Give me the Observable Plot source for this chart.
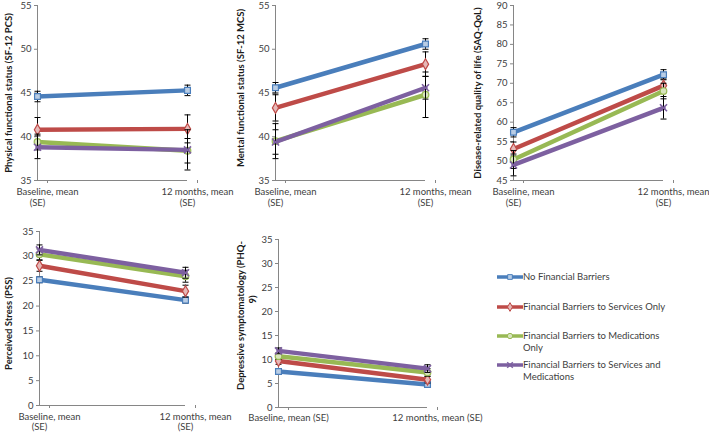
<!DOCTYPE html>
<html>
<head>
<meta charset="utf-8">
<script src="https://cdn.jsdelivr.net/npm/d3@7"></script>
<script src="https://cdn.jsdelivr.net/npm/@observablehq/plot@0.6"></script>
<style>
  body { margin: 0; background: white; }
  #chart { position: relative; width: 709px; height: 435px; overflow: hidden; font-family: Lato, sans-serif; }
  #chart > svg { position: absolute; }
  .legend { position: absolute; left: 497px; font-size: 9.5px; color: #404040; }
  .legend .item { position: absolute; left: 0; display: flex; align-items: flex-start; width: 200px; }
  .legend .item svg { flex: none; margin-top: 0px; }
  .legend .item span { width: 151px; line-height: 12px; }
</style>
</head>
<body>
<div id="chart"></div>
<script>
// ---- data ----
const timepoints = ["Baseline", "12 months"];
const tickLine1 = ["Baseline, mean", "12 months, mean"];
const tickLine2 = ["(SE)", "(SE)"];
const tickSingle = ["Baseline, mean (SE)", "12 months, mean (SE)"];
const groups = [
  "No Financial Barriers",
  "Financial Barriers to Services Only",
  "Financial Barriers to Medications Only",
  "Financial Barriers to Services and Medications"
];
const legendLabels = [
  "No Financial Barriers",
  "Financial Barriers to Services Only",
  "Financial Barriers to Medications Only",
  "Financial Barriers to Services and Medications"
];

// per group: [baseline, 12 months]
const pcsMean = [[44.6, 45.3], [40.8, 40.9], [39.4, 38.4], [38.8, 38.5]];
const pcsSE   = [[0.6, 0.6], [1.4, 1.6], [0.9, 1.4], [1.3, 2.3]];

const mcsMean = [[45.6, 50.6], [43.3, 48.3], [39.5, 44.8], [39.4, 45.6]];
const mcsSE   = [[0.6, 0.6], [1.5, 1.4], [2.0, 2.6], [1.4, 1.3]];

const saqMean = [[57.4, 72.2], [53.1, 69.4], [50.4, 68.0], [49.0, 63.7]];
const saqSE   = [[1.2, 1.3], [1.8, 1.7], [2.3, 2.0], [2.8, 2.9]];

const pssMean = [[25.3, 21.2], [28.1, 23.0], [30.4, 26.0], [31.3, 26.7]];
const pssSE   = [[0.6, 0.6], [1.1, 1.2], [1.1, 1.2], [1.0, 1.1]];

const phqMean = [[7.5, 4.8], [9.7, 5.8], [10.7, 7.3], [11.8, 8.1]];
const phqSE   = [[0.4, 0.4], [0.7, 0.7], [0.7, 0.8], [0.6, 0.8]];

const pcsTicks = [35, 40, 45, 50, 55];
const mcsTicks = [35, 40, 45, 50, 55];
const saqTicks = [45, 50, 55, 60, 65, 70, 75, 80, 85, 90];
const pssTicks = [0, 5, 10, 15, 20, 25, 30, 35];
const phqTicks = [0, 5, 10, 15, 20, 25, 30, 35];

// ---- styles ----
const colors = ["#4A7EBB", "#BE4B48", "#98B954", "#7D60A0"];
const fills  = ["#B9CDE5", "#E6B9B8", "#D7E4BD", "#CCC1DA"];
const symbols = ["square", "diamond", "circle", "times"];
const axisColor = "#868686";
const textColor = "#404040";

const capSymbol = {
  draw(ctx, size) {
    const r = Math.sqrt(size / Math.PI);
    ctx.moveTo(-r, 0);
    ctx.lineTo(r, 0);
  }
};

function rowsFor(means, ses) {
  const rows = [];
  groups.forEach((g, gi) => timepoints.forEach((t, ti) => {
    rows.push({group: g, gi, time: t, mean: means[gi][ti], se: ses[gi][ti]});
  }));
  return rows;
}

function panel(o) {
  const rows = rowsFor(o.means, o.ses);
  const marks = [
    Plot.ruleY([o.domain[0]], {stroke: axisColor}),
    Plot.ruleX([timepoints[0]], {stroke: axisColor}),
    Plot.axisY({ticks: o.ticks, tickSize: 3, tickPadding: 3, stroke: axisColor, label: null, fill: textColor}),
  ];
  if (o.twoLine) {
    marks.push(
      Plot.axisX({tickSize: 3, stroke: axisColor, tickPadding: 5, dx: 10, label: null, fill: textColor,
        tickFormat: d => tickLine1[timepoints.indexOf(d)]}),
      Plot.axisX({tickSize: 0, tickPadding: o.line2Pad || 19, label: null, fill: textColor,
        tickFormat: d => tickLine2[timepoints.indexOf(d)]})
    );
  } else {
    marks.push(
      Plot.axisX({tickSize: 3, stroke: axisColor, tickPadding: 4, dx: 10, label: null, fill: textColor,
        tickFormat: d => tickSingle[timepoints.indexOf(d)]})
    );
  }
  groups.forEach((g, gi) => {
    const gr = rows.filter(r => r.gi === gi);
    marks.push(
      Plot.line(gr, {x: "time", y: "mean", stroke: colors[gi], strokeWidth: 4.5}),
      Plot.ruleX(gr, {x: "time", y1: d => d.mean - d.se, y2: d => d.mean + d.se, stroke: "#000", strokeWidth: 1}),
      Plot.dot(gr, {x: "time", y: d => d.mean - d.se, symbol: capSymbol, r: 3, stroke: "#000", strokeWidth: 1}),
      Plot.dot(gr, {x: "time", y: d => d.mean + d.se, symbol: capSymbol, r: 3, stroke: "#000", strokeWidth: 1}),
      Plot.dot(gr, {x: "time", y: "mean", symbol: symbols[gi], r: 3.3, fill: gi === 3 ? "none" : fills[gi], stroke: colors[gi], strokeWidth: gi === 3 ? 1.6 : 1.2})
    );
  });
  o.titles.forEach(t => {
    marks.push(Plot.text([t.text], {frameAnchor: "left", textAnchor: "middle", rotate: -90, dx: t.dx, dy: t.dy || 0,
      fontWeight: "bold", fontSize: 9.5, fill: "#1a1a1a"}));
  });
  const svg = Plot.plot({
    width: o.width, height: o.height,
    marginLeft: o.ml, marginRight: o.mr, marginTop: o.mt, marginBottom: o.mb,
    style: {fontFamily: "Lato, sans-serif", fontSize: "9.5px", background: "transparent", overflow: "visible"},
    x: {type: "point", domain: timepoints, padding: 0, axis: null},
    y: {domain: o.domain, axis: null},
    marks
  });
  svg.style.left = o.left + "px";
  svg.style.top = o.top + "px";
  document.getElementById("chart").appendChild(svg);
}

panel({left: 0, top: 0, width: 240, height: 215, ml: 37, mr: 53, mt: 5, mb: 35,
  domain: [35, 55], ticks: pcsTicks, means: pcsMean, ses: pcsSE, twoLine: true,
  titles: [{text: "Physical functional status (SF-12 PCS)", dx: -29}]});
panel({left: 235, top: 0, width: 240, height: 215, ml: 40, mr: 50, mt: 5, mb: 35,
  domain: [35, 55], ticks: mcsTicks, means: mcsMean, ses: mcsSE, twoLine: true,
  titles: [{text: "Mental functional status (SF-12 MCS)", dx: -35, dy: -5}]});
panel({left: 470, top: 0, width: 239, height: 215, ml: 43, mr: 46, mt: 5, mb: 35,
  domain: [45, 90], ticks: saqTicks, means: saqMean, ses: saqSE, twoLine: true,
  titles: [{text: "Disease-related quality of life (SAQ-QoL)", dx: -36}]});
panel({left: 0, top: 215, width: 240, height: 220, ml: 39, mr: 55, mt: 16, mb: 30,
  domain: [0, 35], ticks: pssTicks, means: pssMean, ses: pssSE, twoLine: true, line2Pad: 18,
  titles: [{text: "Perceived Stress (PSS)", dx: -31, dy: 5}]});
panel({left: 235, top: 215, width: 250, height: 220, ml: 43, mr: 58, mt: 24, mb: 28,
  domain: [0, 35], ticks: phqTicks, means: phqMean, ses: phqSE, twoLine: false,
  titles: [{text: "Depressive symptomatology (PHQ-", dx: -38, dy: -8}, {text: "9)", dx: -26, dy: -24}]});

// ---- legend ----
const legend = document.createElement("div");
legend.className = "legend";
const legendTops = [271, 301, 330, 359];
legendLabels.forEach((label, i) => {
  const item = document.createElement("div");
  item.className = "item";
  item.style.top = legendTops[i] + "px";
  const sw = d3.create("svg").attr("width", 26).attr("height", 12);
  sw.append("line").attr("x1", 0).attr("x2", 26).attr("y1", 6).attr("y2", 6)
    .attr("stroke", colors[i]).attr("stroke-width", 3.5);
  const sym = d3.symbol().type([d3.symbolSquare, d3.symbolDiamond, d3.symbolCircle, d3.symbolTimes][i]).size(22);
  sw.append("path").attr("d", sym()).attr("transform", "translate(13,6)")
    .attr("fill", i === 3 ? "none" : fills[i]).attr("stroke", colors[i]).attr("stroke-width", i === 3 ? 1.5 : 1);
  item.appendChild(sw.node());
  const span = document.createElement("span");
  span.textContent = label;
  item.appendChild(span);
  legend.appendChild(item);
});
document.getElementById("chart").appendChild(legend);
</script>
</body>
</html>
